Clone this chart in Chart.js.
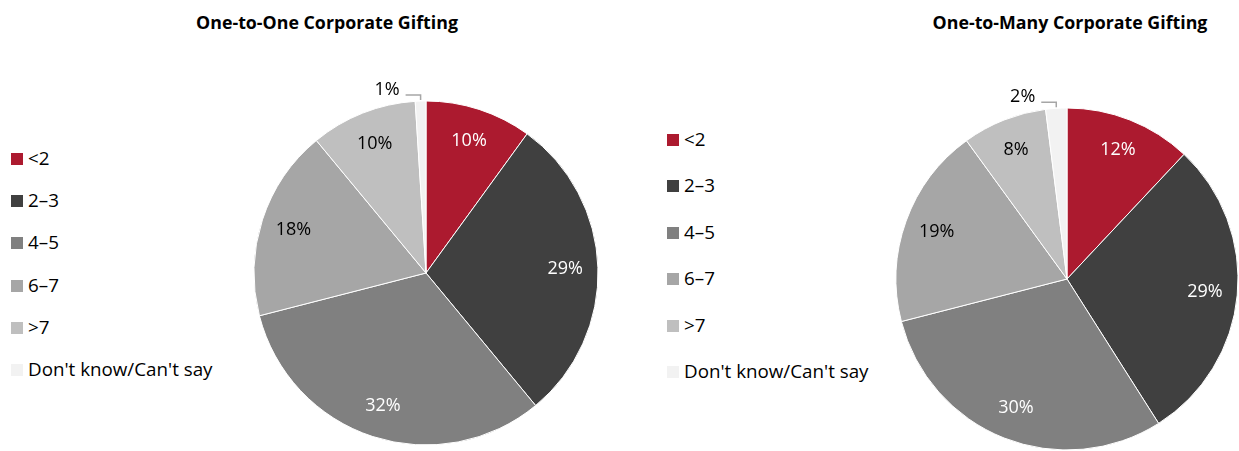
<!DOCTYPE html>
<html lang="en">
<head>
    <meta charset="UTF-8">
    <title>Corporate Gifting</title>
    <style>
        body {
            margin: 0;
            background: #fff;
            font-family: "Open Sans", Lato, sans-serif;
            width: 1239px;
            height: 451px;
            position: relative;
            overflow: hidden;
        }
        .title {
            position: absolute;
            top: 10px;
            font-weight: bold;
            font-size: 17.8px;
            line-height: 24px;
            color: #000;
            white-space: nowrap;
            transform: translateX(-50%);
        }
        .legend {
            position: absolute;
            margin: 0;
            padding: 0;
            list-style: none;
            font-size: 18.8px;
            color: #000;
        }
        .legend li {
            position: absolute;
            left: 0;
            white-space: nowrap;
            line-height: 22px;
        }
        .legend span {
            display: inline-block;
            width: 12px;
            height: 12px;
            margin-right: 5px;
            vertical-align: 0;
        }
        canvas {
            position: absolute;
            top: 0;
        }
    </style>
</head>
<body>
    <div class="title" style="left:327px">One-to-One Corporate Gifting</div>
    <div class="title" style="left:1070px">One-to-Many Corporate Gifting</div>
    <ul class="legend" id="legendOne" style="left:11px;top:147px"></ul>
    <ul class="legend" id="legendMany" style="left:667px;top:128px"></ul>
    <canvas id="pieOne" width="640" height="451" style="left:0"></canvas>
    <canvas id="pieMany" width="599" height="451" style="left:640px"></canvas>

    <script src="https://cdn.jsdelivr.net/npm/chart.js"></script>
    <script>
    // years of gifting relationship
    var categories = ['<2', '2\u20133', '4\u20135', '6\u20137', '>7', "Don't know/Can't say"];
    var oneToOne = [10, 29, 32, 18, 10, 1];
    var oneToMany = [12, 29, 30, 19, 8, 2];
    var colors = ['#AC1A2F', '#404040', '#808080', '#A6A6A6', '#BFBFBF', '#F2F2F2'];
    var labelColors = ['#fff', '#fff', '#fff', '#000', '#000', '#000'];

    function buildLegend(id, spacing) {
        var ul = document.getElementById(id);
        categories.forEach(function (name, i) {
            var li = document.createElement('li');
            li.style.top = (i * spacing) + 'px';
            var box = document.createElement('span');
            box.style.background = colors[i];
            li.appendChild(box);
            li.appendChild(document.createTextNode(name));
            ul.appendChild(li);
        });
    }
    buildLegend('legendOne', 42.2);
    buildLegend('legendMany', 46.4);

    // percentage labels: inside the slice, or outside with a leader for tiny slices
    var sliceLabels = {
        id: 'sliceLabels',
        afterDatasetsDraw: function (chart) {
            var ctx = chart.ctx;
            var meta = chart.getDatasetMeta(0);
            var values = chart.data.datasets[0].data;
            ctx.save();
            ctx.font = '18px "Open Sans", Lato, sans-serif';
            ctx.textBaseline = 'middle';
            meta.data.forEach(function (arc, i) {
                var p = arc.getProps(['x', 'y', 'startAngle', 'endAngle', 'outerRadius'], true);
                var mid = (p.startAngle + p.endAngle) / 2;
                var text = values[i] + '%';
                if (values[i] >= 5) {
                    var r = p.outerRadius * 0.81;
                    ctx.fillStyle = labelColors[i];
                    ctx.textAlign = 'center';
                    ctx.fillText(text, p.x + Math.cos(mid) * r, p.y + Math.sin(mid) * r);
                } else {
                    var ex = p.x + Math.cos(mid) * p.outerRadius;
                    var ey = p.y + Math.sin(mid) * p.outerRadius;
                    var ty = ey - 11;
                    var tx = ex - 21;
                    ctx.fillStyle = '#000';
                    ctx.textAlign = 'right';
                    ctx.fillText(text, tx, ty);
                    ctx.strokeStyle = '#A6A6A6';
                    ctx.lineWidth = 1.5;
                    ctx.beginPath();
                    ctx.moveTo(tx + 6, ey - 6);
                    ctx.lineTo(ex, ey - 6);
                    ctx.lineTo(ex, ey - 1);
                    ctx.stroke();
                }
            });
            ctx.restore();
        }
    };

    function drawPie(id, values, radius, padding) {
        return new Chart(document.getElementById(id), {
            type: 'pie',
            data: {
                labels: categories,
                datasets: [{
                    data: values,
                    backgroundColor: colors,
                    borderColor: '#fff',
                    borderWidth: 1
                }]
            },
            options: {
                responsive: false,
                animation: false,
                radius: radius,
                layout: { padding: padding },
                plugins: {
                    legend: { display: false },
                    tooltip: { enabled: false }
                }
            },
            plugins: [sliceLabels]
        });
    }

    drawPie('pieOne', oneToOne, 172, { left: 254, right: 42, top: 101, bottom: 6 });
    drawPie('pieMany', oneToMany, 171, { left: 256, right: 1, top: 108, bottom: 1 });
    </script>
</body>
</html>
